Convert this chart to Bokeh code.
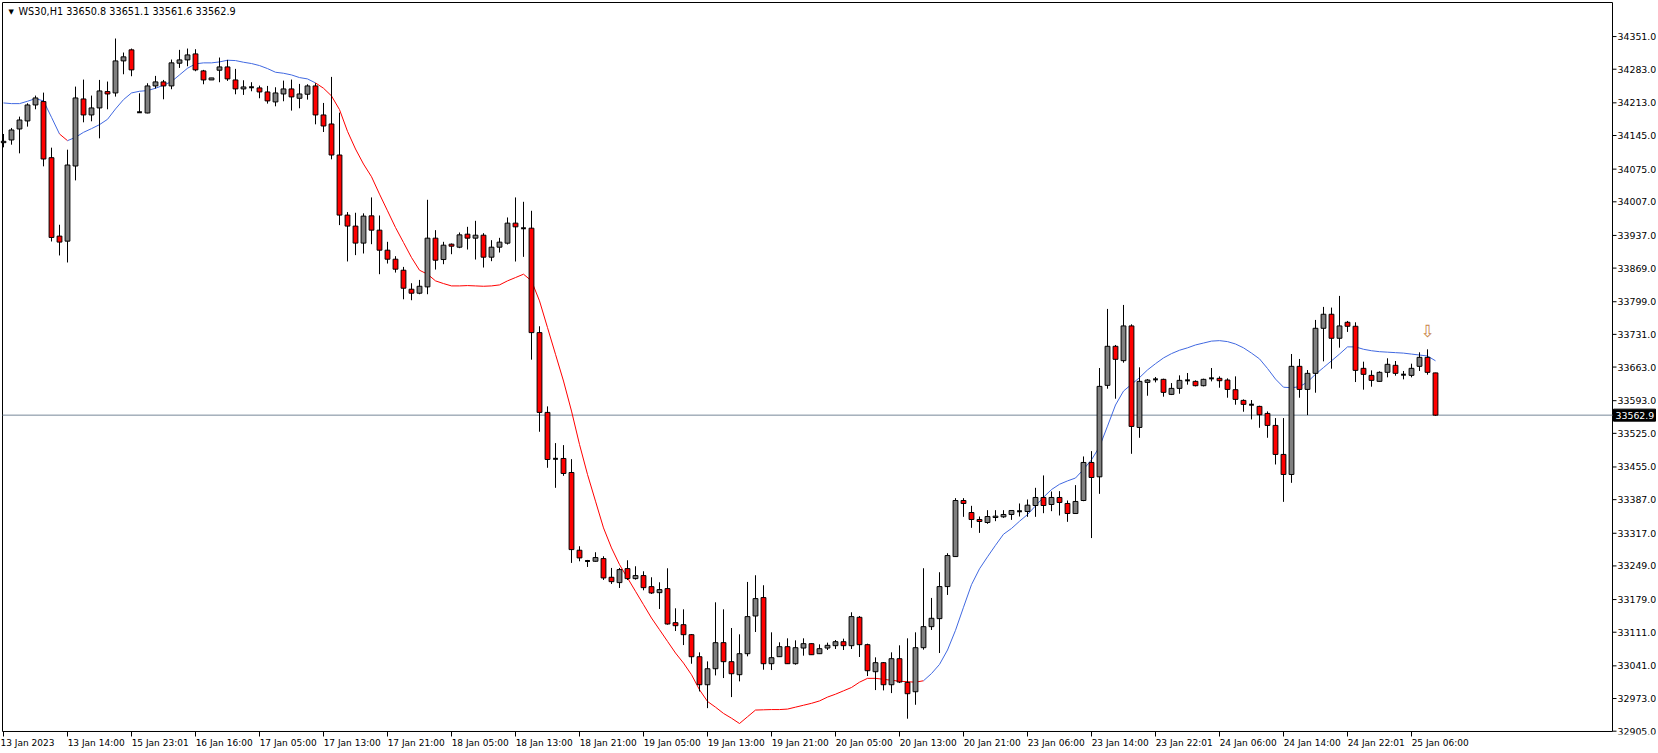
import numpy as np
from bokeh.plotting import figure
from bokeh.models import Range1d, FixedTicker, Label, ColumnDataSource
from bokeh.embed import file_html
from bokeh.resources import INLINE
from bokeh.core.properties import value

# ---------------- data (WS30, H1) ----------------
symbol = "WS30,H1"

opens = [34130.1, 34135.7, 34158.6, 34175.3, 34208.6, 34215.6, 34098.8, 33935.6, 33925.1, 34081.5,
         34221.1, 34187.8, 34202.4, 34236.4, 34233.6, 34300.3, 34323.3, 34193.3, 34191.9, 34248.2,
         34256.6, 34248.2, 34295.5, 34302.4, 34314.9, 34279.5, 34260.7, 34280.9, 34287.8, 34260.7,
         34242.0, 34245.4, 34244.1, 34235.7, 34214.9, 34231.5, 34242.0, 34222.5, 34230.9, 34248.2,
         34187.8, 34169.0, 34104.4, 33979.3, 33956.4, 33921.0, 33977.8, 33948.0, 33906.3, 33887.5,
         33864.6, 33825.0, 33816.7, 33829.9, 33931.3, 33886.8, 33918.8, 33912.5, 33939.6, 33931.3,
         33937.5, 33891.7, 33912.5, 33920.9, 33962.6, 33952.1, 33952.1, 33734.7, 33568.6, 33472.0,
         33472.7, 33443.5, 33281.7, 33259.4, 33258.7, 33264.3, 33225.4, 33214.3, 33243.4, 33222.6,
         33228.9, 33205.9, 33193.4, 33201.8, 33130.9, 33126.7, 33105.9, 33060.0, 33001.7, 33035.0,
         33089.3, 33049.7, 33022.6, 33066.3, 33144.8, 33183.1, 33045.5, 33060.1, 33080.9, 33045.5,
         33078.1, 33087.2, 33066.3, 33078.1, 33083.0, 33091.3, 33083.0, 33142.1, 33085.1, 33028.8,
         33047.6, 33001.7, 33055.9, 33006.6, 32987.1, 33078.8, 33122.6, 33139.3, 33206.0, 33268.5,
         33385.2, 33360.2, 33345.6, 33339.4, 33349.8, 33351.2, 33356.1, 33363.0, 33362.3, 33374.8,
         33391.5, 33376.9, 33391.5, 33379.0, 33358.1, 33385.2, 33464.4, 33434.5, 33624.9, 33706.2,
         33676.3, 33748.6, 33537.3, 33631.1, 33637.4, 33637.4, 33606.1, 33618.6, 33635.3, 33633.2,
         33624.2, 33639.5, 33639.5, 33636.0, 33615.9, 33593.6, 33584.6, 33581.1, 33566.5, 33541.5,
         33481.1, 33439.4, 33664.5, 33616.5, 33649.9, 33743.7, 33772.9, 33722.9, 33756.2, 33747.9,
         33660.3, 33645.7, 33633.2, 33652.0, 33666.6, 33647.1, 33645.7, 33664.5, 33683.2, 33650.8]

highs = [34148.2, 34160.7, 34184.3, 34212.1, 34228.1, 34234.3, 34119.7, 33959.2, 34115.5, 34246.8,
         34261.4, 34228.1, 34260.7, 34257.3, 34346.9, 34317.7, 34326.0, 34232.9, 34253.8, 34269.1,
         34260.7, 34303.1, 34323.3, 34326.0, 34324.6, 34281.6, 34264.9, 34307.3, 34302.4, 34283.7,
         34260.0, 34255.9, 34248.9, 34248.2, 34245.4, 34259.3, 34261.4, 34252.4, 34251.7, 34253.8,
         34212.8, 34267.0, 34192.6, 33985.6, 33984.2, 33983.0, 34016.1, 33978.5, 33923.7, 33893.8,
         33871.5, 33837.5, 33844.4, 34011.2, 33948.0, 33923.7, 33920.2, 33943.1, 33954.9, 33967.4,
         33941.7, 33927.1, 33932.0, 33974.4, 34016.1, 34007.0, 33988.3, 33747.9, 33581.1, 33504.7,
         33500.5, 33471.3, 33290.0, 33261.5, 33277.5, 33269.1, 33244.8, 33244.8, 33260.8, 33248.3,
         33237.9, 33225.4, 33215.0, 33244.1, 33160.8, 33158.7, 33107.3, 33069.1, 33050.3, 33173.3,
         33158.7, 33119.8, 33106.6, 33215.7, 33229.6, 33208.8, 33110.8, 33090.0, 33098.3, 33094.1,
         33098.3, 33087.9, 33085.8, 33089.3, 33094.8, 33097.6, 33152.5, 33144.8, 33087.2, 33058.7,
         33049.0, 33069.1, 33083.7, 33098.3, 33110.8, 33244.2, 33182.4, 33235.9, 33275.5, 33390.1,
         33390.1, 33374.1, 33351.9, 33365.1, 33365.1, 33365.1, 33365.1, 33379.0, 33387.3, 33411.6,
         33437.4, 33404.0, 33404.7, 33385.2, 33417.2, 33476.9, 33488.0, 33661.0, 33784.0, 33709.0,
         33792.3, 33752.0, 33662.4, 33638.1, 33642.3, 33638.8, 33629.7, 33645.7, 33650.6, 33635.3,
         33638.8, 33661.0, 33643.6, 33639.5, 33643.6, 33595.7, 33594.3, 33582.5, 33570.7, 33556.8,
         33556.8, 33690.2, 33679.8, 33656.8, 33761.1, 33788.2, 33786.8, 33811.1, 33759.0, 33756.2,
         33674.2, 33656.1, 33654.1, 33681.2, 33675.6, 33654.8, 33670.0, 33693.7, 33699.9, 33651.1]

lows = [34120.4, 34125.9, 34107.9, 34163.5, 34199.6, 34080.8, 33924.4, 33895.3, 33880.7, 34051.6,
        34172.5, 34174.6, 34139.1, 34199.6, 34226.0, 34272.5, 34268.4, 34191.9, 34191.2, 34242.7,
        34220.4, 34241.3, 34285.7, 34289.2, 34278.8, 34251.7, 34260.7, 34255.9, 34258.6, 34230.8,
        34229.5, 34237.1, 34222.5, 34211.4, 34205.8, 34216.3, 34196.8, 34201.7, 34219.7, 34168.3,
        34152.3, 34095.4, 33958.5, 33882.8, 33896.0, 33899.4, 33918.8, 33856.3, 33878.5, 33859.7,
        33804.1, 33802.1, 33814.6, 33814.6, 33866.0, 33877.1, 33897.9, 33910.5, 33907.7, 33886.8,
        33870.2, 33883.4, 33901.4, 33918.1, 33882.7, 33892.4, 33678.4, 33528.3, 33453.3, 33411.6,
        33436.6, 33255.3, 33258.7, 33246.9, 33258.0, 33219.8, 33211.5, 33203.1, 33219.8, 33220.5,
        33198.3, 33190.6, 33159.4, 33126.7, 33113.5, 33084.3, 33045.4, 32987.8, 32953.0, 33021.1,
        33015.6, 32976.0, 33008.7, 33060.8, 33111.5, 33033.0, 33032.3, 33059.4, 33044.8, 33043.4,
        33062.2, 33063.6, 33065.6, 33074.0, 33076.1, 33074.0, 33076.1, 33059.4, 33019.8, 32990.6,
        32989.9, 32984.3, 33005.2, 32931.0, 32960.0, 33074.7, 33115.7, 33067.7, 33188.6, 33267.8,
        33351.2, 33328.3, 33317.8, 33336.6, 33342.2, 33349.1, 33344.9, 33351.9, 33351.2, 33351.2,
        33358.8, 33363.0, 33354.0, 33340.8, 33357.4, 33383.8, 33307.0, 33399.1, 33617.9, 33597.1,
        33672.1, 33482.4, 33515.8, 33603.3, 33631.1, 33601.3, 33604.7, 33607.5, 33626.3, 33622.8,
        33622.8, 33633.2, 33620.0, 33599.2, 33584.6, 33570.0, 33554.0, 33536.6, 33515.8, 33460.2,
        33382.4, 33422.0, 33599.2, 33563.0, 33609.6, 33674.9, 33659.6, 33703.4, 33736.1, 33631.8,
        33615.9, 33622.1, 33632.5, 33641.6, 33645.0, 33637.4, 33641.6, 33654.8, 33647.1, 33561.6]

closes = [34132.9, 34156.5, 34177.3, 34208.6, 34223.2, 34096.1, 33932.8, 33923.1, 34083.6, 34223.2,
          34187.8, 34202.4, 34237.8, 34231.5, 34300.3, 34308.7, 34281.6, 34193.3, 34248.2, 34256.6,
          34248.2, 34296.2, 34302.4, 34312.8, 34281.6, 34260.7, 34264.9, 34287.8, 34262.8, 34242.0,
          34246.1, 34245.4, 34235.7, 34217.0, 34233.6, 34242.0, 34225.3, 34231.5, 34248.2, 34187.8,
          34164.8, 34104.4, 33979.3, 33956.4, 33921.0, 33977.2, 33948.0, 33906.3, 33887.5, 33866.7,
          33827.1, 33816.7, 33831.2, 33931.3, 33885.4, 33916.7, 33914.6, 33938.2, 33931.3, 33937.5,
          33891.7, 33912.5, 33923.0, 33962.6, 33954.9, 33952.1, 33734.7, 33568.6, 33470.6, 33472.0,
          33441.5, 33283.0, 33265.7, 33259.4, 33266.4, 33224.0, 33216.3, 33241.4, 33222.6, 33228.9,
          33203.8, 33192.7, 33199.7, 33128.1, 33124.6, 33105.9, 33060.0, 33001.7, 33035.0, 33089.2,
          33049.7, 33024.6, 33066.3, 33143.5, 33181.0, 33045.5, 33058.0, 33080.9, 33045.5, 33078.8,
          33087.2, 33064.2, 33076.8, 33083.7, 33091.3, 33083.0, 33143.5, 33085.1, 33030.9, 33047.6,
          33001.7, 33055.9, 33007.3, 32983.0, 33078.8, 33122.6, 33140.0, 33206.0, 33270.6, 33385.2,
          33379.0, 33345.6, 33341.5, 33351.9, 33352.6, 33356.1, 33364.4, 33363.0, 33375.5, 33391.5,
          33374.8, 33391.5, 33381.1, 33358.1, 33383.2, 33464.4, 33433.1, 33622.8, 33706.2, 33679.1,
          33748.6, 33539.4, 33633.2, 33636.0, 33637.4, 33610.3, 33618.6, 33635.3, 33635.3, 33624.2,
          33637.4, 33639.5, 33634.6, 33616.5, 33595.7, 33585.3, 33584.6, 33563.7, 33541.5, 33481.1,
          33439.4, 33664.5, 33616.5, 33649.9, 33743.7, 33772.9, 33722.9, 33748.6, 33747.9, 33656.1,
          33647.8, 33635.3, 33652.0, 33668.7, 33649.9, 33647.1, 33660.3, 33683.2, 33652.0, 33562.9]

moving_average = [34212.8, 34211.4, 34211.4, 34216.3, 34221.8, 34217.0, 34182.9, 34148.2, 34134.3, 34141.2,
                  34151.6, 34159.3, 34167.6, 34178.7, 34200.3, 34219.7, 34233.6, 34237.1, 34238.5, 34243.4,
                  34249.6, 34257.3, 34271.1, 34285.0, 34294.1, 34296.2, 34296.2, 34298.2, 34301.7, 34301.0,
                  34297.5, 34294.8, 34290.6, 34284.3, 34276.7, 34274.6, 34271.1, 34265.6, 34262.8, 34254.5,
                  34243.4, 34227.4, 34198.9, 34153.7, 34116.9, 34085.6, 34059.2, 34023.0, 33988.3, 33953.5,
                  33922.3, 33891.0, 33864.6, 33856.3, 33842.4, 33836.8, 33831.9, 33831.9, 33832.6, 33831.9,
                  33831.2, 33831.9, 33834.0, 33842.4, 33849.3, 33856.3, 33842.4, 33800.7, 33745.1, 33689.5,
                  33633.9, 33571.4, 33501.9, 33439.4, 33383.8, 33328.2, 33286.5, 33251.8, 33224.0, 33196.2,
                  33168.4, 33140.6, 33116.3, 33092.0, 33067.7, 33046.8, 33022.5, 32991.2, 32966.9, 32955.0,
                  32942.0, 32932.0, 32921.0, 32935.0, 32949.0, 32949.5, 32950.0, 32950.0, 32951.0, 32955.0,
                  32959.0, 32963.0, 32968.0, 32976.0, 32982.0, 32989.0, 32996.0, 33007.0, 33015.0, 33015.0,
                  33013.0, 33011.0, 33009.0, 33008.0, 33007.0, 33010.0, 33025.0, 33044.0, 33074.0, 33115.0,
                  33163.0, 33210.0, 33243.0, 33268.0, 33292.0, 33315.0, 33327.0, 33342.0, 33356.0, 33374.0,
                  33392.0, 33408.0, 33419.0, 33426.0, 33432.0, 33450.0, 33470.0, 33497.0, 33540.0, 33584.0,
                  33613.0, 33627.0, 33641.0, 33657.0, 33670.0, 33682.0, 33691.0, 33698.0, 33703.0, 33709.0,
                  33713.0, 33717.0, 33718.0, 33716.0, 33711.0, 33703.0, 33692.0, 33680.0, 33660.0, 33638.0,
                  33621.0, 33620.0, 33622.0, 33632.0, 33648.0, 33662.0, 33676.0, 33690.0, 33705.0, 33705.0,
                  33700.0, 33697.0, 33695.0, 33694.0, 33693.0, 33692.0, 33690.0, 33688.0, 33686.0, 33676.0]

# bar ranges [start, end) over which the average is drawn in its "down" colour
ma_down_ranges = [(7, 8), (39, 115)]

y_ticks = [34351, 34283, 34213, 34145, 34075, 34007, 33937, 33869, 33799, 33731, 33663,
           33593, 33525, 33455, 33387, 33317, 33249, 33179, 33111, 33041, 32973, 32905]

x_tick_labels = ["13 Jan 2023", "13 Jan 14:00", "15 Jan 23:01", "16 Jan 16:00", "17 Jan 05:00",
                 "17 Jan 13:00", "17 Jan 21:00", "18 Jan 05:00", "18 Jan 13:00", "18 Jan 21:00",
                 "19 Jan 05:00", "19 Jan 13:00", "19 Jan 21:00", "20 Jan 05:00", "20 Jan 13:00",
                 "20 Jan 21:00", "23 Jan 06:00", "23 Jan 14:00", "23 Jan 22:01", "24 Jan 06:00",
                 "24 Jan 14:00", "24 Jan 22:01", "25 Jan 06:00"]
bars_per_label = 8

current_price = 33562.9
signal_bar = 178
signal_price = 33738.0

# ---------------- layout constants (pixels) ----------------
FONT = "DejaVu Sans"
FIG_W, FIG_H = 1656, 750
AXIS_PX = 17                 # height Bokeh gives the time-axis band
BAR_PX = 8                   # horizontal spacing of the bars
FIRST_BAR_PX = 3             # position of bar 0 in the frame
BORDER_LEFT_PX, BORDER_RIGHT_PX = 2, 1612
BORDER_TOP_PX, BORDER_BOTTOM_PX = 2, 730
TOP_TICK_PX = 36             # position of the first price tick (34351)
PRICE_PER_PX = 2.0845

frame_h = FIG_H - AXIS_PX
x_start = -FIRST_BAR_PX / BAR_PX
x_end = x_start + FIG_W / BAR_PX
x_left = x_start + BORDER_LEFT_PX / BAR_PX
x_border = x_start + BORDER_RIGHT_PX / BAR_PX
y_end = y_ticks[0] + TOP_TICK_PX * PRICE_PER_PX
y_start = y_end - frame_h * PRICE_PER_PX
y_top = y_end - BORDER_TOP_PX * PRICE_PER_PX
y_bottom = y_end - BORDER_BOTTOM_PX * PRICE_PER_PX
gap_px = frame_h - BORDER_BOTTOM_PX

n = len(opens)
xs = np.arange(n)
o = np.array(opens); h = np.array(highs); l = np.array(lows); c = np.array(closes)

p = figure(width=FIG_W, height=FIG_H, output_backend="svg", toolbar_location=None,
           x_range=Range1d(x_start, x_end), y_range=Range1d(y_start, y_end),
           min_border_left=0, min_border_top=0, min_border_right=0, min_border_bottom=0)
p.background_fill_color = "white"
p.border_fill_color = "white"
p.outline_line_color = None
p.xgrid.visible = False
p.ygrid.visible = False
p.yaxis.visible = False

# time axis (labels start at their tick, as in the terminal)
def left_aligned(i, lab):
    if i == 0:
        return lab
    # leading figure spaces of the same width push the centred label to the right of its tick
    return "\u2007" * 10 + lab

xa = p.xaxis[0]
tick_pos = [i * bars_per_label for i in range(len(x_tick_labels))]
xa.ticker = FixedTicker(ticks=tick_pos)
xa.major_label_overrides = {t: left_aligned(i, lab)
                            for i, (t, lab) in enumerate(zip(tick_pos, x_tick_labels))}
xa.major_label_text_font = FONT
xa.major_label_text_font_size = "9px"
xa.major_label_text_color = "black"
xa.major_tick_in = max(gap_px, 3)
xa.major_tick_out = 2
xa.major_tick_line_color = "black"
xa.minor_tick_in = 0
xa.minor_tick_out = 0
xa.major_label_standoff = 1
xa.axis_line_color = None
xa.axis_label = None
xa.axis_label_standoff = 0

# chart frame
p.segment(x0=[x_left, x_left, x_left, x_border],
          y0=[y_bottom, y_top, y_bottom, y_bottom],
          x1=[x_border, x_border, x_left, x_border],
          y1=[y_bottom, y_top, y_top, y_top],
          line_color="black", line_width=1)

# price scale
p.segment(x0=[x_border] * len(y_ticks), y0=y_ticks, x1=[x_border + 4 / BAR_PX] * len(y_ticks), y1=y_ticks,
          line_color="black", line_width=1)
p.text(x=[x_border] * len(y_ticks), y=y_ticks, text=[f"{t:.1f}" for t in y_ticks],
       x_offset=5, text_align="left", text_baseline="middle", text_color="black",
       text_font=value(FONT), text_font_size="9.4px")

# current price line + tag
p.segment(x0=[x_left], y0=[current_price], x1=[x_border], y1=[current_price],
          line_color="#778899", line_width=1)
p.rect(x=[x_border + 22 / BAR_PX], y=[current_price], width=42, height=12,
       width_units="screen", height_units="screen", fill_color="black", line_color="black")
p.text(x=[x_border], y=[current_price], text=[f"{current_price:.1f}"], x_offset=3,
       text_align="left", text_baseline="middle", text_color="white",
       text_font=value(FONT), text_font_size="9.4px")

# moving average, coloured per segment
seg_col = []
for k in range(n - 1):
    down = any(a <= k < b for a, b in ma_down_ranges)
    seg_col.append("#FF0000" if down else "#4169E1")
ma = np.array(moving_average)
p.segment(x0=xs[:-1], y0=ma[:-1], x1=xs[1:], y1=ma[1:], line_color=seg_col, line_width=1)

# candles
wick_src = ColumnDataSource(dict(x=xs, lo=l, hi=h))
p.segment(x0="x", y0="lo", x1="x", y1="hi", source=wick_src, line_color="black", line_width=1)

up = c > o
dn = c < o
body_w = 0.6
p.vbar(x=xs[up], width=body_w, bottom=o[up], top=c[up], fill_color="#808080",
       line_color="black", line_width=1)
p.vbar(x=xs[dn], width=body_w, bottom=c[dn], top=o[dn], fill_color="#FF0000",
       line_color="black", line_width=1)
dj = c == o
p.segment(x0=xs[dj] - body_w / 2, y0=o[dj], x1=xs[dj] + body_w / 2, y1=o[dj],
          line_color="black", line_width=2)

# signal arrow
p.text(x=[signal_bar], y=[signal_price], text=["⇩"], text_color="#C8864A",
       text_align="center", text_baseline="middle", text_font=value(FONT),
       text_font_size="17px")

# header
p.add_layout(Label(x=x_start, y=y_end, x_offset=8, y_offset=-11, text="▼",
                   text_font=FONT, text_font_size="7px", text_color="black",
                   text_baseline="middle"))
header = f"{symbol}  {opens[-1]:.1f} {highs[-1]:.1f} {lows[-1]:.1f} {closes[-1]:.1f}"
p.add_layout(Label(x=x_start, y=y_end, x_offset=18, y_offset=-11, text=header,
                   text_font=FONT, text_font_size="9.7px", text_color="black",
                   text_baseline="middle"))

open("out.html", "w").write(file_html(p, INLINE))
